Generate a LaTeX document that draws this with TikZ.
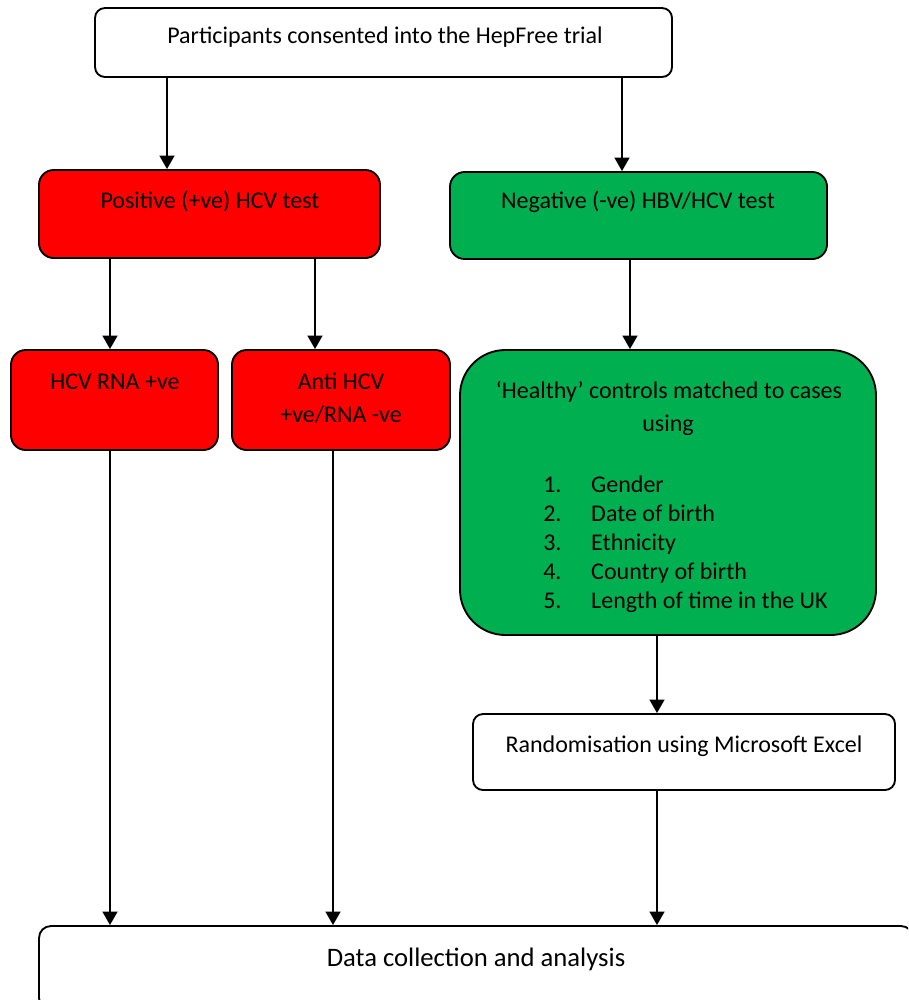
\documentclass[tikz,border=0pt]{standalone}
\usepackage{fontspec}
\setmainfont{Carlito}
\usetikzlibrary{arrows.meta,calc}
\definecolor{boxred}{HTML}{FF0000}
\definecolor{boxgreen}{HTML}{00B050}
\begin{document}
\begin{tikzpicture}[x=0.75pt,y=-0.75pt,
  box/.style={draw=black,line width=1.4pt,inner sep=0pt},
  txt/.style={font=\fontsize{18}{24.75}\selectfont,inner sep=0pt,anchor=base},
  arr/.style={line width=1.5pt,-{Triangle[width=11pt,length=10pt]}}]
\useasboundingbox (0,0) rectangle (908,1000);
\fill[white] (0,0) rectangle (908,1000);
% boxes
\node[box,fill=white,rounded corners=7.5pt,minimum width=432.75pt,minimum height=51.75pt] (top) at (383.5,42.5) {};
\node[box,fill=boxred,rounded corners=11pt,minimum width=255.75pt,minimum height=66pt] (pos) at (209.5,214) {};
\node[box,fill=boxgreen,rounded corners=11pt,minimum width=282.75pt,minimum height=65.25pt] (neg) at (638.5,215.5) {};
\node[box,fill=boxred,rounded corners=11pt,minimum width=155.25pt,minimum height=75pt] (rna) at (114.5,400) {};
\node[box,fill=boxred,rounded corners=11pt,minimum width=163.5pt,minimum height=75pt] (anti) at (341,400) {};
\node[box,fill=boxgreen,rounded corners=34pt,minimum width=312pt,minimum height=213.75pt] (healthy) at (668,492.5) {};
\node[box,fill=white,rounded corners=7.5pt,minimum width=316.5pt,minimum height=57pt] (rand) at (684,752) {};
\begin{scope}
\clip (0,0) rectangle (908,1000);
\node[box,fill=white,rounded corners=9pt,minimum width=655.5pt,minimum height=63pt] (data) at (476,968) {};
\end{scope}
% texts
\node[txt] (toptxt) at (385,43) {Participants consented into the HepFree trial};
\node[txt] (postxt) at (210,208) {Positive (+ve) HCV test};
\node[txt] (negtxt) at (638,208) {Negative (-ve) HBV/HCV test};
\node[txt] (rnatxt) at (115,389) {HCV RNA +ve};
\node[txt] (antitxtA) at (341,389) {Anti HCV};
\node[txt] (antitxtB) at (341,422) {+ve/RNA -ve};
\node[txt] (healthytxtA) at (669,398) {‘Healthy’ controls matched to cases};
\node[txt] (healthytxtB) at (668,431) {using};
\node[txt,anchor=base west] (list) at (543,492) {\fontsize{18}{21.75}\selectfont
  \begin{tabular}[t]{@{}p{36pt}@{}l@{}}
  1. & Gender\\
  2. & Date of birth\\
  3. & Ethnicity\\
  4. & Country of birth\\
  5. & Length of time in the UK
  \end{tabular}};
\node[txt] (randtxt) at (684,752) {Randomisation using Microsoft Excel};
\node[txt,font=\fontsize{20}{24}\selectfont] (datatxt) at (476,966) {Data collection and analysis};
% column coordinates
\coordinate (c1) at (167,0);
\coordinate (c2) at (622,0);
\coordinate (c3) at (110,0);
\coordinate (c4) at (315,0);
\coordinate (c5) at (333,0);
\coordinate (c6) at (630,0);
\coordinate (c7) at (657,0);
% arrows
\draw[arr] (top.south -| c1) -- (pos.north -| c1);
\draw[arr] (top.south -| c2) -- (neg.north -| c2);
\draw[arr] (pos.south -| c3) -- (rna.north -| c3);
\draw[arr] (pos.south -| c4) -- (anti.north -| c4);
\draw[arr] (neg.south -| c6) -- (healthy.north -| c6);
\draw[arr] (healthy.south -| c7) -- (rand.north -| c7);
\draw[arr] (rna.south -| c3) -- (data.north -| c3);
\draw[arr] (anti.south -| c5) -- (data.north -| c5);
\draw[arr] (rand.south -| c7) -- (data.north -| c7);
\end{tikzpicture}
\end{document}
